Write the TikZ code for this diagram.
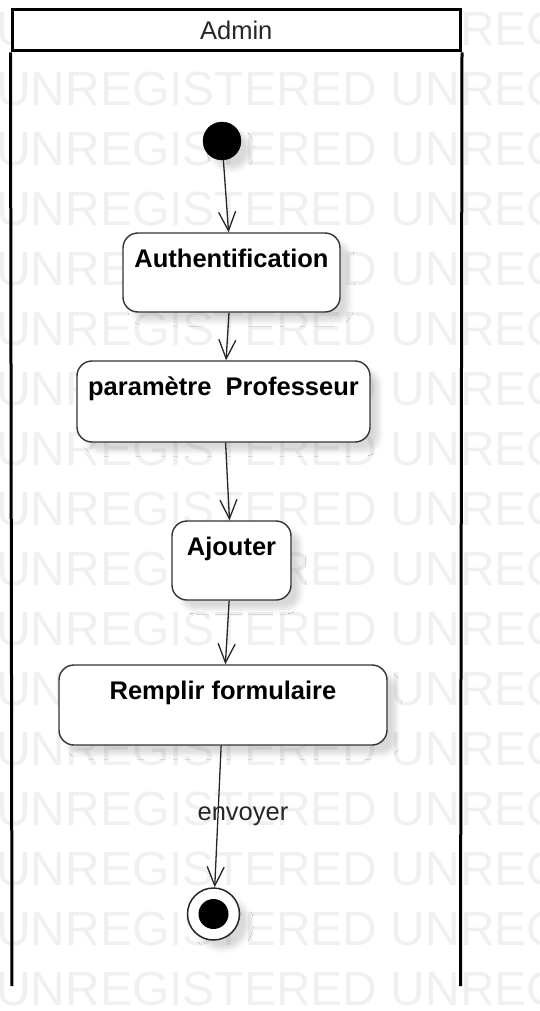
\documentclass[tikz,border=0pt]{standalone}
\usepackage{fontspec}
\setmainfont{Liberation Sans}
\usetikzlibrary{arrows.meta,shadows.blur}
\begin{document}
\begin{tikzpicture}[x=1pt,y=-1pt,
  every node/.style={font=\fontsize{25.5}{30}\selectfont},
  watermark/.style={anchor=base west, inner sep=0pt, text=black!6,
    font=\fontsize{48}{50}\selectfont},
  lanehead/.style={draw=black, line width=3pt, fill=white, inner sep=0pt,
    minimum width=448.5pt, minimum height=41.5pt, text=black!85},
  laneside/.style={draw=black, line width=3pt},
  softshadow/.style={blur shadow={shadow xshift=9pt, shadow yshift=-9pt,
    shadow blur radius=5pt, shadow opacity=15}},
  activity/.style={draw=black!80, line width=1.4pt, fill=white,
    rounded corners=15pt, inner sep=0pt, text height=34pt,
    font=\bfseries\fontsize{25.5}{30}\selectfont, softshadow},
  initial/.style={circle, fill=black, draw=black, inner sep=0pt,
    minimum size=38pt, softshadow},
  final/.style={circle, draw=black!85, line width=1.5pt, fill=white,
    inner sep=0pt, minimum size=52pt, softshadow,
    path picture={\fill[black] (path picture bounding box.center) circle (15pt);}},
  flow/.style={-{Straight Barb[length=19pt,width=17pt]}, line width=1.3pt,
    draw=black!85},
  flowlabel/.style={inner sep=0pt, text=black!85}
]
\useasboundingbox (0,0) rectangle (540,1011);
\clip (0,0) rectangle (540,1011);

% background watermark rows
\foreach \k in {0,...,16}
  \node[watermark, name=wm\k] at (-4,{45.5+60*\k}) {UNREGISTERED UNREGISTERED};

% swimlane
\node[lanehead] (lane) at (236.25,30.25) {Admin};
\coordinate (laneSW) at (12,986);
\coordinate (laneSE) at (460.5,986);
\draw[laneside] (lane.south west) -- (laneSW);
\draw[laneside] (lane.south east) -- (laneSE);

% states
\node[initial] (init) at (222,141) {};
\node[activity, minimum width=217pt, text depth=45pt] (auth) at (231.5,272.5) {Authentification};
\node[activity, minimum width=293pt, text depth=47pt] (param) at (223.5,401.5) {paramètre\ \ Professeur};
\node[activity, minimum width=119pt, text depth=45pt] (add) at (231.5,560.5) {Ajouter};
\node[activity, minimum width=328pt, text depth=46pt] (form) at (223,705) {Remplir formulaire};
\node[final] (end) at (213.5,914) {};

% transitions
\draw[flow] (init) -- (auth);
\draw[flow] (auth) -- (param);
\draw[flow] (param) -- (add);
\draw[flow] (add) -- (form);
\draw[flow] (form) -- node[flowlabel, pos=0.5, xshift=25pt, name=send] {envoyer} (end);
\end{tikzpicture}
\end{document}
